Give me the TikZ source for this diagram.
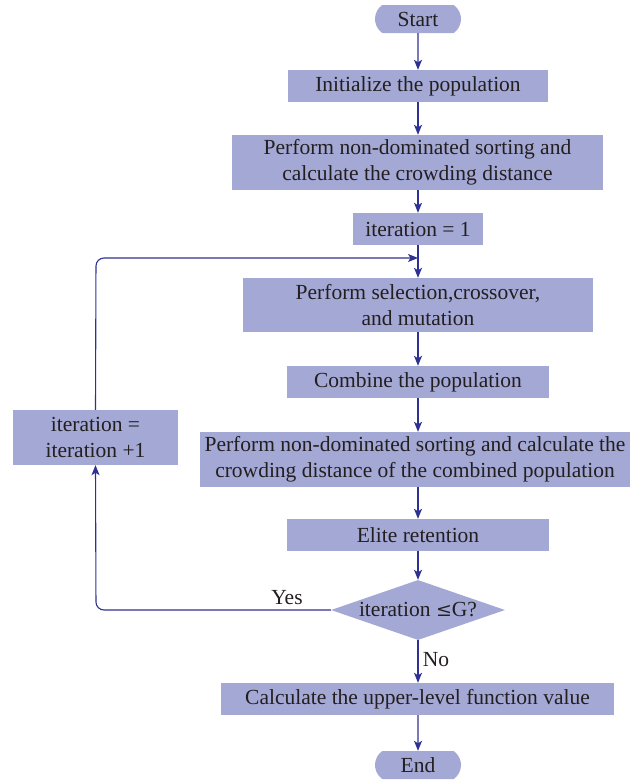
\documentclass[tikz,border=0pt]{standalone}
\usepackage{fontspec}
\setmainfont{Liberation Serif}
\usetikzlibrary{arrows.meta,shapes.misc,shapes.geometric}
\definecolor{boxfill}{HTML}{A4A8D5}
\definecolor{arrowc}{HTML}{2E3192}
\definecolor{txt}{HTML}{231F20}
\newcommand{\bigfont}{\fontsize{21.5}{26}\selectfont}
\begin{document}
\begin{tikzpicture}[x=1pt,y=-1pt,
  proc/.style={rectangle,fill=boxfill,minimum width=#1,inner sep=0pt,text=txt,font=\bigfont,align=center},
  proc/.default=100pt,
  term/.style={rounded rectangle,rounded rectangle arc length=110,fill=boxfill,minimum width=86pt,minimum height=28pt,inner sep=0pt,text=txt,font=\bigfont},
  dec/.style={diamond,aspect=2.9,fill=boxfill,minimum width=174pt,minimum height=60pt,inner sep=0pt,text=txt,font=\bigfont},
  arr/.style={draw=arrowc,line width=1.1pt,-{Stealth[length=10pt,width=8pt,inset=2.5pt]}},
  lbl/.style={text=txt,font=\bigfont}]
\useasboundingbox (0,0) rectangle (630,780);
\node[term] (start) at (418,19) {Start};
\node[proc=260pt,minimum height=32pt] (init) at (418,86) {Initialize the population};
\node[proc=371pt,minimum height=55pt] (sort1) at (417.5,162.5) {Perform non-dominated sorting and\\calculate the crowding distance};
\node[proc=130pt,minimum height=32pt] (it1) at (418,229) {iteration = 1};
\node[proc=350pt,minimum height=54pt] (sel) at (418,305) {Perform selection,crossover,\\and mutation};
\node[proc=262pt,minimum height=32pt] (comb) at (418,382) {Combine the population};
\node[proc=430pt,minimum height=55pt] (sort2) at (415,459.5) {Perform non-dominated sorting and calculate the\\crowding distance of the combined population};
\node[proc=262pt,minimum height=32pt] (elite) at (418,535) {Elite retention};
\node[dec] (cond) at (418,610) {iteration {\fontspec{DejaVu Serif}\fontsize{19}{26}\selectfont≤}G?};
\node[proc=393pt,minimum height=32pt] (calc) at (417.5,699) {Calculate the upper-level function value};
\node[term] (end) at (418,765) {End};
\node[proc=165pt,minimum height=55pt] (inc) at (95.5,437.5) {iteration =\\iteration +1};
\coordinate (merge) at (418,258);
\draw[arr] (start) -- (init);
\draw[arr] (init) -- (init |- sort1.north);
\draw[arr] (sort1.south -| it1) -- (it1);
\draw[arr] (it1) -- (sel);
\draw[arr] (sel) -- (comb);
\draw[arr] (comb) -- (comb |- sort2.north);
\draw[arr] (sort2.south -| elite) -- (elite);
\draw[arr] (elite) -- (cond);
\draw[arr] (cond) -- node[lbl,right,pos=0.45,xshift=1pt] {No} (cond |- calc.north);
\draw[arr] (calc.south -| end) -- (end);
\draw[arr,rounded corners=8pt] (cond.west) -- (96,610) -- (inc.south);
\draw[arr,rounded corners=8pt] (inc.north) -- (96,258) -- (merge);
\node[lbl] (yes) at (287,598) {Yes};
\end{tikzpicture}
\end{document}
